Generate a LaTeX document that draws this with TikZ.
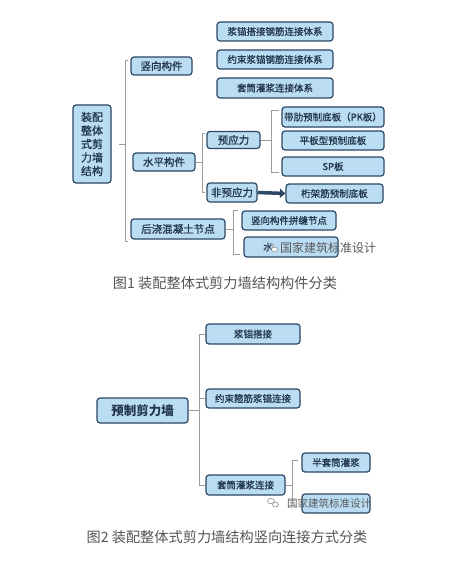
\documentclass[tikz,border=0pt]{standalone}
\usepackage{fontspec}
\setmainfont{Noto Sans CJK SC}
\newfontfamily\boxfont{Noto Sans CJK SC}[FakeBold=1]
\usetikzlibrary{arrows.meta,shapes.geometric}
\definecolor{boxfill}{HTML}{BADDF4}
\definecolor{boxline}{HTML}{2C4763}
\definecolor{boxtext}{HTML}{22364E}
\definecolor{linkgray}{HTML}{9C9C9C}
\definecolor{captext}{HTML}{555555}
\begin{document}
\begin{tikzpicture}[x=1pt,y=-1pt,
  box/.style={draw=boxline,fill=boxfill,line width=1.2pt,rounded corners=3pt,
    inner sep=0pt,text=boxtext,align=center},
  lvA/.style={box,font=\boxfont\fontsize{10.5}{12}\selectfont},
  leaf/.style={box,font=\boxfont\fontsize{9.5}{11}\selectfont},
  link/.style={draw=linkgray,line width=0.8pt},
  captiontext/.style={text=captext,font=\fontsize{14.2}{16}\selectfont,inner sep=0pt},
  wmark/.style={text=black!65,inner sep=0pt},
  wicon/.style={draw=black!45,line width=0.6pt,ellipse,inner sep=0pt}]
\useasboundingbox[fill=white] (0,0) rectangle (462,567);

% ---------- Figure 1 ----------
\node[lvA,minimum width=38pt,minimum height=78pt,font=\boxfont\fontsize{11}{13.5}\selectfont,align=left] (root) at (92,144) {装配\\整体\\式剪\\力墙\\结构};
\node[lvA,minimum width=61pt,minimum height=18pt] (v1) at (161.5,66) {竖向构件};
\node[lvA,minimum width=62pt,minimum height=18pt] (v2) at (164,162) {水平构件};
\node[lvA,minimum width=94pt,minimum height=20pt] (v3) at (178,229) {后浇混凝土节点};

\node[leaf,minimum width=116pt,minimum height=19pt] (a1) at (275,31.5) {浆锚搭接钢筋连接体系};
\node[leaf,minimum width=116pt,minimum height=19pt] (a2) at (275,59.5) {约束浆锚钢筋连接体系};
\node[leaf,minimum width=116pt,minimum height=20pt] (a3) at (275,88) {套筒灌浆连接体系};

\node[lvA,minimum width=53pt,minimum height=17pt] (p1) at (233.5,140) {预应力};
\node[lvA,minimum width=50pt,minimum height=19pt] (p2) at (232,192.5) {非预应力};

\node[leaf,minimum width=102pt,minimum height=20pt] (b1) at (333,117) {带肋预制底板（PK板）};
\node[leaf,minimum width=102pt,minimum height=19pt] (b2) at (333,140.5) {平板型预制底板};
\node[leaf,minimum width=102pt,minimum height=19pt] (b3) at (333,166.5) {SP板};
\node[leaf,minimum width=97pt,minimum height=19pt] (b4) at (334.5,193.5) {桁架筋预制底板};

\node[leaf,minimum width=94pt,minimum height=19pt] (c1) at (289,220.5) {竖向构件拼缝节点};
\node[leaf,minimum width=94pt,minimum height=20pt] (c2) at (291,247) {};
\node[leaf,draw=none,fill=none] (c2t) at (268,247) {水};

% brackets fig 1
\coordinate (r1) at (125,0);
\draw[link] ([xshift=7pt]root.east) -- (r1|-root.east);
\draw[link] ([xshift=-2pt]v1.west|-0,60) -- (r1|-0,60) -- (r1|-0,241) -- ([xshift=-2pt]v3.west|-0,241);

\coordinate (r2) at (202,0);
\draw[link] (v2.east) -- (r2|-v2.east);
\draw[link] ([xshift=-1pt]p1.west|-0,133) -- (r2|-0,133) -- (r2|-0,192) -- ([xshift=-1pt]p2.west|-0,192);

\coordinate (r3) at (271,0);
\draw[link] (p1.east) -- (r3|-p1.east);
\draw[link] ([xshift=-2pt]b1.west|-0,110) -- (r3|-0,110) -- (r3|-0,172) -- ([xshift=-2pt]b3.west|-0,172);

\draw[draw=boxline,line width=3.5pt,-{Triangle[length=5.5pt,width=9pt]}] (p2.east) -- (b4.west);

\coordinate (r4) at (233,0);
\draw[link] (v3.east) -- (r4|-v3.east);
\draw[link] ([xshift=-3pt]c1.west|-0,210) -- (r4|-0,210) -- (r4|-0,254) -- ([xshift=-3pt]c2.west|-0,254);

% watermark 1
\node[wmark,font=\fontsize{12}{14}\selectfont,anchor=west] (wm1) at (280,248) {国家建筑标准设计};
\node[wicon,minimum width=7pt,minimum height=5.5pt] (wi1) at (270,246) {};
\node[wicon,minimum width=6pt,minimum height=5pt,fill=white] (wj1) at (274.5,249.5) {};

\node[captiontext] (cap1) at (225,283) {图1 装配整体式剪力墙结构构件分类};

% ---------- Figure 2 ----------
\node[box,minimum width=91pt,minimum height=25pt,font=\fontsize{12.5}{14}\selectfont\bfseries] (m) at (142.5,410.5) {预制剪力墙};
\node[leaf,minimum width=94pt,minimum height=20pt] (k1) at (253,334) {浆锚搭接};
\node[leaf,minimum width=94pt,minimum height=19pt] (k2) at (253,398.5) {约束箍筋浆锚连接};
\node[leaf,minimum width=79pt,minimum height=20pt] (k3) at (245.5,485) {套筒灌浆连接};
\node[leaf,minimum width=68pt,minimum height=19pt] (h1) at (336,462.5) {半套筒灌浆};
\node[leaf,minimum width=68pt,minimum height=19pt] (h2) at (336,503.5) {};

\coordinate (s1) at (199,0);
\draw[link] (m.east) -- (s1|-m.east);
\draw[link] (k1.west) -- (s1|-k1.west) -- (s1|-k3.west) -- (k3.west);
\draw[link] (k2.west) -- (s1|-k2.west);

\coordinate (s2) at (292,0);
\draw[link] (k3.east) -- (s2|-k3.east);
\draw[link] ([xshift=-3pt]h1.west|-0,460) -- (s2|-0,460) -- (s2|-0,500);

% watermark 2
\node[wmark,font=\fontsize{10.5}{12}\selectfont,anchor=west] (wm2) at (287,503) {国家建筑标准设计};
\node[wicon,minimum width=7pt,minimum height=5.5pt] (wi2) at (271,501) {};
\node[wicon,minimum width=6pt,minimum height=5pt,fill=white] (wj2) at (275.5,504.5) {};

\node[captiontext] (cap2) at (227,537) {图2 装配整体式剪力墙结构竖向连接方式分类};
\end{tikzpicture}
\end{document}
